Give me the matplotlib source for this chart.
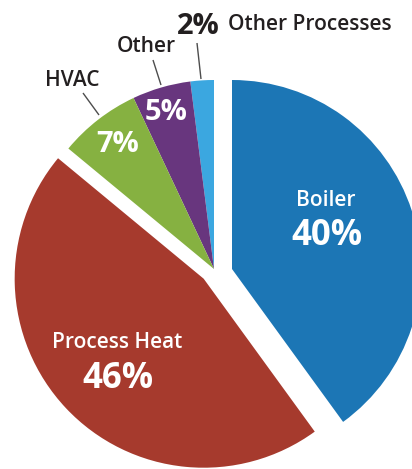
import matplotlib
matplotlib.use("Agg")
import matplotlib.pyplot as plt

# Energy use by end category (percent)
categories = ["Other Processes", "Other", "HVAC", "Process Heat", "Boiler"]
shares = [2, 5, 7, 46, 40]
colors = ["#3BA7E0", "#68367E", "#86B141", "#A63A2D", "#1C76B5"]
explode = [0, 0, 0, 0.075, 0]

W, H = 412, 469
fig = plt.figure(figsize=(W / 100, H / 100), dpi=100)
ax = fig.add_axes([0, 0, 1, 1])

R = 189.0          # pie radius in pixels
cx, cy = 214, 269  # pie centre in pixels (from top-left)

wedges, _ = ax.pie(shares, colors=colors, explode=explode, startangle=90,
                   counterclock=True, radius=1.0,
                   wedgeprops=dict(linewidth=0))
# the boiler slice is pulled straight out to the right
wedges[4].set_center((18 / R, 0))
ax.set_xlim(-cx / R, (W - cx) / R)
ax.set_ylim(-(H - cy) / R, cy / R)
ax.set_aspect("auto")
ax.axis("off")

FONT = ["Open Sans", "DejaVu Sans"]


def px(x, y):
    return x / W, 1 - y / H


def put(x, y, s, size, color, weight="bold", ha="center"):
    ax.text(*px(x, y), s, transform=ax.transAxes, ha=ha, va="center",
            fontsize=size, color=color, fontweight=weight, family=FONT)


LBL = 15
# values inside the wedges
put(326, 200, categories[4], LBL, "white", "semibold")
put(327, 236, f"{shares[4]}%", 25, "white")
put(117, 342, categories[3], LBL, "white", "semibold")
put(118, 379, f"{shares[3]}%", 25, "white")
put(118, 145, f"{shares[2]}%", 21, "white")
put(166, 113, f"{shares[1]}%", 21, "white")

# outside labels with leader lines
dark = "#231F20"
put(72, 80, categories[2], LBL, dark, "semibold")
put(146, 46, categories[1], LBL, dark, "semibold")
put(198, 26, f"{shares[0]}%", 21, dark)
put(228, 25, categories[0], LBL, dark, "semibold", ha="left")

for (x0, y0), (x1, y1) in [((83, 93), (99, 115)),
                           ((153, 60), (161, 85)),
                           ((197, 43), (201, 79))]:
    ax.plot([x0 / W, x1 / W], [1 - y0 / H, 1 - y1 / H], color="#4D4D4D",
            lw=1.0, transform=ax.transAxes, solid_capstyle="butt")

fig.savefig("out.png", dpi=100, facecolor="white")
